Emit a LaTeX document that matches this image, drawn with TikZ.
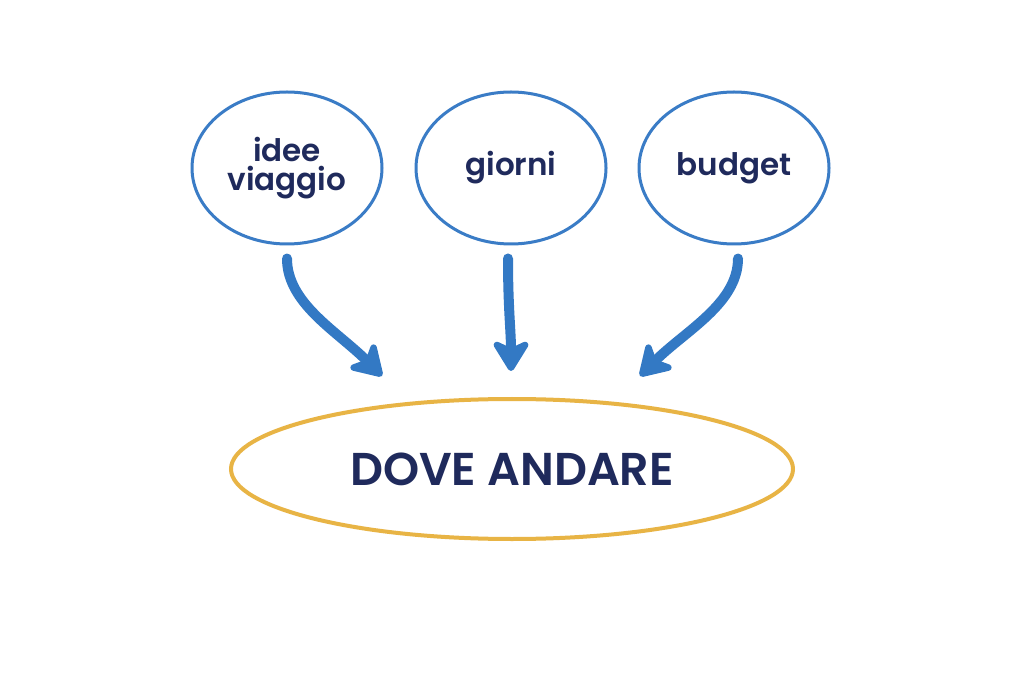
\documentclass[tikz,border=0pt]{standalone}
\usepackage{fontspec}
\setmainfont{Poppins}
\newfontfamily\pmed{Poppins Medium}
\newfontfamily\psemi{Poppins SemiBold}
\usetikzlibrary{arrows.meta,calc,shapes.geometric}
\definecolor{bblue}{HTML}{3A7CC6}
\definecolor{ablue}{HTML}{3379C4}
\definecolor{gold}{HTML}{E8B445}
\definecolor{navy}{HTML}{1F2A5C}
\tikzset{
  x=1pt,y=1pt,
  topell/.style={draw=bblue,line width=3pt,ellipse,minimum width=190pt,minimum height=152pt,inner sep=0pt,text=navy,font=\psemi\fontsize{31}{29}\selectfont,align=center},
  goalell/.style={draw=gold,line width=4pt,ellipse,minimum width=562pt,minimum height=140pt,inner sep=0pt,text=navy,font=\psemi\fontsize{46}{48}\selectfont},
  flow/.style={draw=ablue,line width=10pt,line cap=round,-{Stealth[length=36pt,width=44pt,inset=10pt,round]}},
}
\begin{document}
\begin{tikzpicture}
\useasboundingbox[fill=white] (0,0) rectangle (1024,683);
\node[topell] (a) at (287,515) {idee\\viaggio};
\node[topell] (b) at (511,515) {giorni};
\node[topell] (c) at (734,515) {budget};
\node[goalell] (d) at (512,214) {DOVE ANDARE};
\coordinate (ea) at ($(d.north)+(-130,21)$);
\coordinate (eb) at ($(d.north)+(-1,26)$);
\coordinate (ec) at ($(d.north)+(128,21)$);
\draw[flow] ([yshift=-13pt]a.south) .. controls +(0,-45) and +(-45,45) .. (ea);
\draw[flow] ([xshift=-3pt,yshift=-13pt]b.south) .. controls +(0,-50) and +(0,40) .. (eb);
\draw[flow] ([xshift=4pt,yshift=-13pt]c.south) .. controls +(0,-45) and +(45,45) .. (ec);
\end{tikzpicture}
\end{document}
